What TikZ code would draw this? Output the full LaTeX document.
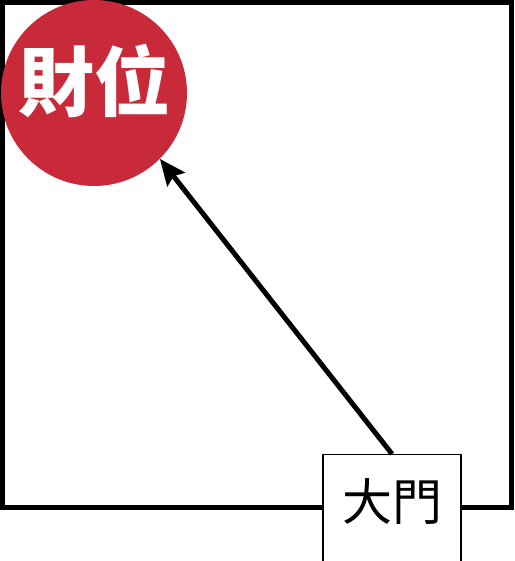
\documentclass[tikz,border=0pt]{standalone}
\usepackage{fontspec}
\newfontfamily\cjk{Noto Sans CJK TC}
\usepackage{xcolor}
\usetikzlibrary{arrows.meta,positioning}
\definecolor{wealthred}{RGB}{200,42,58}

\begin{document}
\begin{tikzpicture}[
    x=1pt, y=1pt,
    room/.style={draw=black, line width=5.5pt},
    spot/.style={circle, fill=wealthred, text=white, minimum size=186pt, inner sep=0pt, font=\cjk\bfseries\fontsize{76}{76}\selectfont, text depth=32pt},
    doorbox/.style={rectangle, draw=black, fill=white, line width=1.4pt, minimum width=138pt, inner sep=0pt, text height=66pt, text depth=130pt, font=\cjk\fontsize{50}{50}\selectfont},
    arrow/.style={-{Stealth[length=26pt, width=22pt, inset=4pt]}, line width=5pt}
]
    \useasboundingbox (0,0) rectangle (514,561);

    % Room
    \draw[room] (2.5,53.5) rectangle (511.5,558.5);

    % Wealth spot
    \node[spot] (wealth) at (94,468) {財位};

    % Front door
    \node[doorbox, anchor=north] (frontdoor) at (392,107) {大門};

    % Arrows
    \draw[arrow] (frontdoor.north) -- (wealth.315);
\end{tikzpicture}
\end{document}
